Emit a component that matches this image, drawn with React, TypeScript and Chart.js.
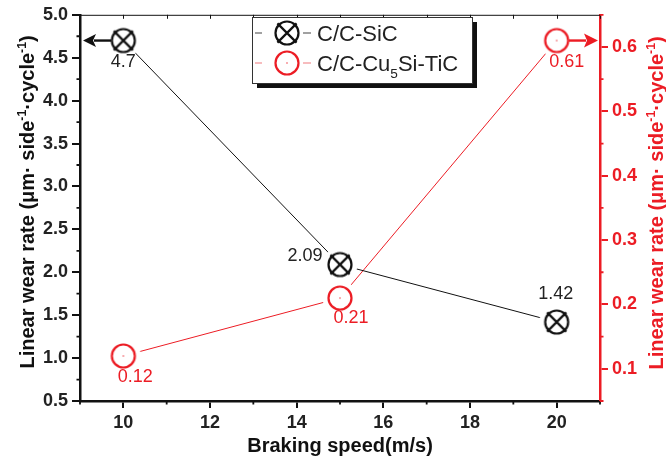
import { useEffect, useRef } from 'react';
import { Chart, registerables } from 'chart.js';

Chart.register(...registerables);

const RED = '#ec1c24';
const INK = '#111111';
const FONT = '"Liberation Sans", Arial, sans-serif';

// ---- data ----
const speeds = [10, 15, 20];
const sicRates = [4.7, 2.09, 1.42];
const cuRates = [0.12, 0.21, 0.61];
const sicLabels = ['4.7', '2.09', '1.42'];
const cuLabels = ['0.12', '0.21', '0.61'];
const seriesNames = ['C/C-SiC', 'C/C-Cu5Si-TiC'];

// ---- ticks ----
const xTicks = [10, 12, 14, 16, 18, 20];
const xMinor = [9, 11, 13, 15, 17, 19, 21];
const yTicks = [0.5, 1.0, 1.5, 2.0, 2.5, 3.0, 3.5, 4.0, 4.5, 5.0];
const yMinor = [0.75, 1.25, 1.75, 2.25, 2.75, 3.25, 3.75, 4.25, 4.75];
const y1Ticks = [0.1, 0.2, 0.3, 0.4, 0.5, 0.6];
const y1Minor = [0.05, 0.15, 0.25, 0.35, 0.45, 0.55, 0.65];
const xRange = [9, 21];
const yRange = [0.5, 5.0];
const y1Range = [0.05, 0.65];

type Part = { t: string; sup?: boolean; sub?: boolean };

function drawGlyph(g: CanvasRenderingContext2D, cx: number, cy: number, kind: number) {
  g.save();
  g.lineWidth = 2.2;
  if (kind === 0) {
    g.strokeStyle = INK;
    g.beginPath();
    g.arc(cx, cy, 11.5, 0, Math.PI * 2);
    g.stroke();
    g.beginPath();
    g.moveTo(cx - 9.6, cy - 9.6);
    g.lineTo(cx + 9.6, cy + 9.6);
    g.moveTo(cx + 9.6, cy - 9.6);
    g.lineTo(cx - 9.6, cy + 9.6);
    g.stroke();
  } else {
    g.strokeStyle = RED;
    g.beginPath();
    g.arc(cx, cy, 11.5, 0, Math.PI * 2);
    g.stroke();
    g.fillStyle = RED;
    g.fillRect(cx - 0.6, cy - 0.6, 1.2, 1.2);
  }
  g.restore();
}

function makeMarker(kind: number): HTMLCanvasElement {
  const c = document.createElement('canvas');
  c.width = 40;
  c.height = 40;
  const g = c.getContext('2d')!;
  g.fillStyle = '#ffffff';
  g.beginPath();
  g.arc(20, 20, 17.5, 0, Math.PI * 2);
  g.fill();
  drawGlyph(g, 20, 20, kind);
  return c;
}

function richWidth(ctx: CanvasRenderingContext2D, parts: Part[], size: number, weight: string) {
  let w = 0;
  for (const p of parts) {
    const s = p.sup || p.sub ? size * 0.62 : size;
    ctx.font = `${weight} ${s}px ${FONT}`;
    w += ctx.measureText(p.t).width;
  }
  return w;
}

function drawRich(
  ctx: CanvasRenderingContext2D,
  parts: Part[],
  x: number,
  y: number,
  size: number,
  weight: string,
  color: string,
  align: 'left' | 'center'
) {
  const w = richWidth(ctx, parts, size, weight);
  let cx = align === 'center' ? x - w / 2 : x;
  ctx.fillStyle = color;
  ctx.textAlign = 'left';
  ctx.textBaseline = 'alphabetic';
  for (const p of parts) {
    const s = p.sup || p.sub ? size * 0.62 : size;
    ctx.font = `${weight} ${s}px ${FONT}`;
    const dy = p.sup ? -size * 0.42 : p.sub ? size * 0.3 : 0;
    ctx.fillText(p.t, cx, y + dy);
    cx += ctx.measureText(p.t).width;
  }
}

const titleParts: Part[] = [
  { t: 'Linear wear rate (\u03bcm\u00b7 side' },
  { t: '-1', sup: true },
  { t: '\u00b7cycle' },
  { t: '-1', sup: true },
  { t: ')' },
];
const legendParts: Part[][] = [
  [{ t: 'C/C-SiC' }],
  [{ t: 'C/C-Cu' }, { t: '5', sub: true }, { t: 'Si-TiC' }],
];

const sicOffsets = [
  [0, 21],
  [-35, -9],
  [-1, -28],
];
const cuOffsets = [
  [12, 21],
  [11, 20],
  [10, 21],
];

const decor = {
  id: 'decor',
  afterDatasetsDraw(chart: any) {
    const ctx: CanvasRenderingContext2D = chart.ctx;
    const { left, right, top, bottom } = chart.chartArea;
    const sx = chart.scales.x;
    const sy = chart.scales.y;
    const sy1 = chart.scales.y1;
    ctx.save();

    // top frame line with small inward ticks
    ctx.strokeStyle = INK;
    ctx.lineWidth = 1;
    ctx.beginPath();
    ctx.moveTo(left, top + 0.5);
    ctx.lineTo(right, top + 0.5);
    for (const v of [...xTicks, ...xMinor]) {
      const px = Math.round(sx.getPixelForValue(v)) + 0.5;
      ctx.moveTo(px, top);
      ctx.lineTo(px, top + 4);
    }
    ctx.stroke();

    // minor ticks
    ctx.lineWidth = 1.8;
    ctx.beginPath();
    for (const v of xMinor) {
      const px = sx.getPixelForValue(v);
      ctx.moveTo(px, bottom);
      ctx.lineTo(px, bottom + 3.5);
    }
    for (const v of yMinor) {
      const py = sy.getPixelForValue(v);
      ctx.moveTo(left, py);
      ctx.lineTo(left - 3.5, py);
    }
    ctx.stroke();
    ctx.strokeStyle = RED;
    ctx.beginPath();
    for (const v of y1Minor) {
      const py = sy1.getPixelForValue(v);
      ctx.moveTo(right, py);
      ctx.lineTo(right + 3.5, py);
    }
    ctx.stroke();

    // arrows
    const p0 = chart.getDatasetMeta(0).data[0];
    const p2 = chart.getDatasetMeta(1).data[2];
    ctx.lineWidth = 2.4;
    ctx.strokeStyle = INK;
    ctx.fillStyle = INK;
    ctx.beginPath();
    ctx.moveTo(p0.x - 12, p0.y);
    ctx.lineTo(left + 14, p0.y);
    ctx.stroke();
    ctx.beginPath();
    ctx.moveTo(left + 3, p0.y);
    ctx.lineTo(left + 16, p0.y - 6.5);
    ctx.lineTo(left + 13, p0.y);
    ctx.lineTo(left + 16, p0.y + 6.5);
    ctx.closePath();
    ctx.fill();
    ctx.strokeStyle = RED;
    ctx.fillStyle = RED;
    ctx.beginPath();
    ctx.moveTo(p2.x + 12, p2.y);
    ctx.lineTo(right - 14, p2.y);
    ctx.stroke();
    ctx.beginPath();
    ctx.moveTo(right - 2, p2.y);
    ctx.lineTo(right - 16, p2.y - 7);
    ctx.lineTo(right - 13, p2.y);
    ctx.lineTo(right - 16, p2.y + 7);
    ctx.closePath();
    ctx.fill();

    // point labels
    ctx.font = `18px ${FONT}`;
    ctx.textAlign = 'center';
    ctx.textBaseline = 'middle';
    chart.getDatasetMeta(0).data.forEach((pt: any, i: number) => {
      ctx.fillStyle = '#222';
      ctx.fillText(sicLabels[i], pt.x + sicOffsets[i][0], pt.y + sicOffsets[i][1]);
    });
    chart.getDatasetMeta(1).data.forEach((pt: any, i: number) => {
      ctx.fillStyle = RED;
      ctx.fillText(cuLabels[i], pt.x + cuOffsets[i][0], pt.y + cuOffsets[i][1]);
    });

    // axis titles
    ctx.save();
    ctx.translate(34, (top + bottom) / 2 - 6);
    ctx.rotate(-Math.PI / 2);
    drawRich(ctx, titleParts, 0, 0, 20, 'bold', INK, 'center');
    ctx.restore();
    ctx.save();
    ctx.translate(663, (top + bottom) / 2 - 5);
    ctx.rotate(-Math.PI / 2);
    drawRich(ctx, titleParts, 0, 0, 20, 'bold', RED, 'center');
    ctx.restore();
    ctx.font = `bold 20px ${FONT}`;
    ctx.fillStyle = INK;
    ctx.textAlign = 'center';
    ctx.textBaseline = 'alphabetic';
    ctx.fillText('Braking speed(m/s)', (left + right) / 2, 452);

    // legend
    const lx = 252, ly = 17, lw = 220, lh = 66;
    ctx.fillStyle = '#111';
    ctx.fillRect(lx + 5, ly + 5, lw, lh);
    ctx.fillStyle = '#fff';
    ctx.fillRect(lx, ly, lw, lh);
    ctx.strokeStyle = '#333';
    ctx.lineWidth = 1;
    ctx.strokeRect(lx + 0.5, ly + 0.5, lw, lh);
    const rows = [33, 63];
    rows.forEach((ry, k) => {
      ctx.strokeStyle = k === 0 ? '#444' : '#f07a7e';
      ctx.lineWidth = 1.2;
      ctx.beginPath();
      ctx.moveTo(255, ry);
      ctx.lineTo(262, ry);
      ctx.moveTo(303, ry);
      ctx.lineTo(311, ry);
      ctx.stroke();
      drawGlyph(ctx, 287, ry, k);
      drawRich(ctx, legendParts[k], 317, ry + 8, 22, 'normal', '#222', 'left');
    });

    ctx.restore();
  },
};

export default function App() {
  const ref = useRef<HTMLCanvasElement | null>(null);
  useEffect(() => {
    document.body.style.margin = '0';
    const canvas = ref.current;
    if (!canvas) return;
    const sicMarker = makeMarker(0);
    const cuMarker = makeMarker(1);
    const tickFont = { family: FONT, size: 18, weight: 'bold' as const };
    const chart = new Chart(canvas, {
      type: 'line',
      data: {
        datasets: [
          {
            label: seriesNames[0],
            data: speeds.map((s, i) => ({ x: s, y: sicRates[i] })),
            yAxisID: 'y',
            borderColor: INK,
            borderWidth: 1,
            pointStyle: sicMarker as any,
            pointRadius: 12,
            tension: 0,
            clip: false as any,
          },
          {
            label: seriesNames[1],
            data: speeds.map((s, i) => ({ x: s, y: cuRates[i] })),
            yAxisID: 'y1',
            borderColor: RED,
            borderWidth: 1,
            pointStyle: cuMarker as any,
            pointRadius: 12,
            tension: 0,
            clip: false as any,
          },
        ],
      },
      options: {
        responsive: false,
        animation: false,
        events: [],
        layout: { padding: { top: 14, left: 0, right: 0, bottom: 0 } },
        plugins: { legend: { display: false }, tooltip: { enabled: false } },
        scales: {
          x: {
            type: 'linear',
            min: xRange[0],
            max: xRange[1],
            afterFit: (s: any) => {
              s.height = 59;
            },
            afterBuildTicks: (s: any) => {
              s.ticks = xTicks.map((v) => ({ value: v }));
            },
            grid: { drawOnChartArea: false, drawTicks: true, tickLength: 7, lineWidth: 2, color: INK },
            border: { display: true, width: 2.5, color: INK },
            ticks: { font: tickFont, color: '#222', padding: 4, maxRotation: 0, callback: (v: any) => String(v) },
          },
          y: {
            type: 'linear',
            position: 'left',
            min: yRange[0],
            max: yRange[1],
            afterFit: (s: any) => {
              s.width = 80;
            },
            afterBuildTicks: (s: any) => {
              s.ticks = yTicks.map((v) => ({ value: v }));
            },
            grid: { drawOnChartArea: false, drawTicks: true, tickLength: 8, lineWidth: 2, color: INK },
            border: { display: true, width: 2.5, color: INK },
            ticks: { font: tickFont, color: '#222', padding: 4, callback: (v: any) => Number(v).toFixed(1) },
          },
          y1: {
            type: 'linear',
            position: 'right',
            min: y1Range[0],
            max: y1Range[1],
            afterFit: (s: any) => {
              s.width = 66;
            },
            afterBuildTicks: (s: any) => {
              s.ticks = y1Ticks.map((v) => ({ value: v }));
            },
            grid: { drawOnChartArea: false, drawTicks: true, tickLength: 8, lineWidth: 2, color: RED },
            border: { display: true, width: 2.5, color: RED },
            ticks: { font: tickFont, color: RED, padding: 4, callback: (v: any) => Number(v).toFixed(1) },
          },
        },
      },
      plugins: [decor],
    });
    return () => chart.destroy();
  }, []);
  return (
    <div style={{ position: 'absolute', left: 0, top: 0, width: 666, height: 460 }}>
      <canvas ref={ref} width={666} height={460} />
    </div>
  );
}
